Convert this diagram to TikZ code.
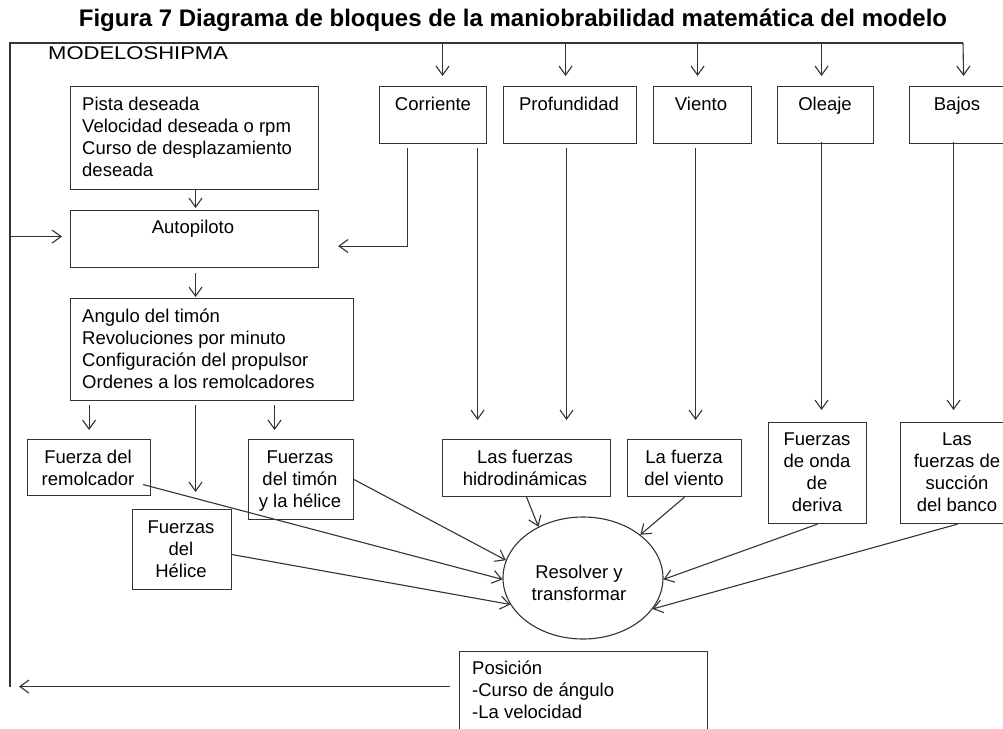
\documentclass[tikz,border=0pt]{standalone}
\usepackage{fontspec}
\setmainfont{Liberation Sans}
\usetikzlibrary{arrows.meta,shapes.geometric}
\newcommand\mytab[2]{\begin{tabular}[t]{@{}#1@{}}#2\end{tabular}}
\begin{document}
\begin{tikzpicture}[x=1pt,y=-1pt,
  box/.style={draw=black!80, line width=1.1pt, inner sep=0pt, anchor=north west, rectangle},
  txt/.style={inner sep=0pt, font=\fontsize{18.5}{22}\selectfont, text=black},
  arr/.style={draw=black!80, line width=1.1pt, -{Straight Barb[length=9pt,width=13pt]}},
  ln/.style={draw=black!80, line width=1.1pt}]
\useasboundingbox (0,0) rectangle (1003,728);
\clip (0,0) rectangle (1003,728);
% frame coordinates
\coordinate (tl) at (10,43);
\coordinate (tr) at (963,43);
\coordinate (bl) at (10,687);
% title
\node[inner sep=0pt, anchor=base, font=\fontsize{24}{26}\selectfont\bfseries] (title) at (513,27)
  {Figura 7 Diagrama de bloques de la maniobrabilidad matemática del modelo};
\node[txt, anchor=base west] (mod) at (48,59) {\scalebox{1.19}[1]{MODELOSHIPMA}};
% boxes
\node[box, minimum width=248pt, minimum height=103pt] (pista) at (70,86) {};
\node[box, minimum width=248pt, minimum height=57pt] (auto) at (70,210) {};
\node[box, minimum width=283pt, minimum height=102pt] (ang) at (70,298) {};
\node[box, minimum width=107pt, minimum height=57pt] (corr) at (379,86) {};
\node[box, minimum width=133pt, minimum height=57pt] (prof) at (503,86) {};
\node[box, minimum width=98pt, minimum height=57pt] (vien) at (653,86) {};
\node[box, minimum width=96pt, minimum height=57pt] (olea) at (777,86) {};
\node[box, minimum width=96pt, minimum height=57pt] (bajo) at (909,86) {};
\node[box, minimum width=123pt, minimum height=56pt] (rem) at (27,439) {};
\node[box, minimum width=105pt, minimum height=80pt] (tim) at (248,439) {};
\node[box, minimum width=99pt, minimum height=80pt] (hel) at (132,509) {};
\node[box, minimum width=168pt, minimum height=57pt] (hid) at (442,439) {};
\node[box, minimum width=114pt, minimum height=57pt] (vfz) at (627,439) {};
\node[box, minimum width=98pt, minimum height=101pt] (der) at (768,422) {};
\node[box, minimum width=114pt, minimum height=101pt] (ban) at (900,422) {};
\node[box, minimum width=248pt, minimum height=90pt] (pos) at (459,651) {};
\node[draw=black!80, line width=1.1pt, ellipse, inner sep=0pt, minimum width=160pt, minimum height=122pt] (ell) at (583,578) {};
% texts
\node[txt, anchor=base west] (tpista) at (82,110) {\mytab{l}{Pista deseada\\Velocidad deseada o rpm\\Curso de desplazamiento\\deseada}};
\node[txt, anchor=base] (tauto) at (193,233) {Autopiloto};
\node[txt, anchor=base west] (tang) at (82,322) {\mytab{l}{Angulo del timón\\Revoluciones por minuto\\Configuración del propulsor\\Ordenes a los remolcadores}};
\node[txt, anchor=base] (tcorr) at (433,110) {Corriente};
\node[txt, anchor=base] (tprof) at (569,110) {Profundidad};
\node[txt, anchor=base] (tvien) at (701,110) {Viento};
\node[txt, anchor=base] (tolea) at (825,110) {Oleaje};
\node[txt, anchor=base] (tbajo) at (957,110) {Bajos};
\node[txt, anchor=base] (trem) at (88,463) {\mytab{c}{Fuerza del\\remolcador}};
\node[txt, anchor=base] (ttim) at (300,463) {\mytab{c}{Fuerzas\\del timón\\y la hélice}};
\node[txt, anchor=base] (thel) at (181,533) {\mytab{c}{Fuerzas\\del\\Hélice}};
\node[txt, anchor=base] (thid) at (525,463) {\mytab{c}{Las fuerzas\\hidrodinámicas}};
\node[txt, anchor=base] (tvfz) at (684,463) {\mytab{c}{La fuerza\\del viento}};
\node[txt, anchor=base] (tder) at (817,445) {\mytab{c}{Fuerzas\\de onda\\de\\deriva}};
\node[txt, anchor=base] (tban) at (957,445) {\mytab{c}{Las\\fuerzas de\\succión\\del banco}};
\node[txt, anchor=base] (tell) at (579,578) {\mytab{c}{Resolver y\\transformar}};
\node[txt, anchor=base west] (tpos) at (472,674) {\mytab{l}{Posición\\-Curso de ángulo\\-La velocidad}};
% frame
\draw[ln] (bl) -- (tl) -- (tr);
% drops from top line
\draw[arr] ([xshift=9.5pt]corr.north |- tl) -- ([xshift=9.5pt,yshift=10pt]corr.north);
\draw[arr] ([xshift=-4.5pt]prof.north |- tl) -- ([xshift=-4.5pt,yshift=10pt]prof.north);
\draw[arr] ([xshift=-5pt]vien.north |- tl) -- ([xshift=-5pt,yshift=10pt]vien.north);
\draw[arr] ([xshift=-4pt]olea.north |- tl) -- ([xshift=-4pt,yshift=10pt]olea.north);
\draw[arr] (tr) -- ([xshift=6pt,yshift=10pt]bajo.north);
% left column
\draw[arr] ([xshift=1pt]pista.south) -- ([xshift=1pt,yshift=2pt]auto.north);
\draw[arr] ([yshift=2.5pt]tl |- auto.west) -- ([xshift=-8pt,yshift=2.5pt]auto.west);
\draw[arr] ([xshift=-25.5pt,yshift=-4pt]corr.south) |- ([xshift=19pt,yshift=-7pt]auto.east);
\draw[arr] ([xshift=1pt,yshift=-5pt]auto.south) -- ([xshift=1pt,yshift=1pt]auto.south |- ang.north);
\draw[arr] ([yshift=-4pt]rem.north |- ang.south) -- ([yshift=9pt]rem.north);
\draw[arr] ([xshift=-26.5pt,yshift=-4pt]tim.north |- ang.south) -- ([xshift=-26.5pt,yshift=9pt]tim.north);
\draw[arr] ([xshift=13.5pt,yshift=-4pt]hel.north |- ang.south) -- ([xshift=13.5pt,yshift=17pt]hel.north);
% vertical lines to force boxes
\draw[arr] ([xshift=44.5pt,yshift=-4pt]corr.south) -- ([xshift=-49pt,yshift=19pt]hid.north);
\draw[arr] ([xshift=-3.5pt,yshift=-4pt]prof.south) -- ([xshift=40pt,yshift=19pt]hid.north);
\draw[arr] ([xshift=-7pt,yshift=-4pt]vien.south) -- ([xshift=11pt,yshift=19pt]vfz.north);
\draw[arr] ([xshift=-4pt,yshift=2pt]olea.south) -- ([xshift=4pt,yshift=12pt]der.north);
\draw[arr] ([xshift=-4pt,yshift=2pt]bajo.south) -- ([xshift=-4pt,yshift=12pt]ban.north);
% into the ellipse
\draw[arr] ([xshift=-8pt,yshift=-17pt]rem.east) -- (ell.181);
\draw[arr] (tim.east) -- (ell.167);
\draw[arr] ([yshift=-5pt]hel.east) -- (ell.200);
\draw[arr] (hid.south) -- (ell.131);
\draw[arr] (vfz.south) -- (ell.37);
\draw[arr] (der.south) -- (ell.-1);
\draw[arr] (ban.south) -- (ell.-24);
% feedback
\draw[arr] ([xshift=-9pt,yshift=10pt]pos.west) -- ([xshift=9pt,yshift=10pt]bl |- pos.west);
\end{tikzpicture}
\end{document}
